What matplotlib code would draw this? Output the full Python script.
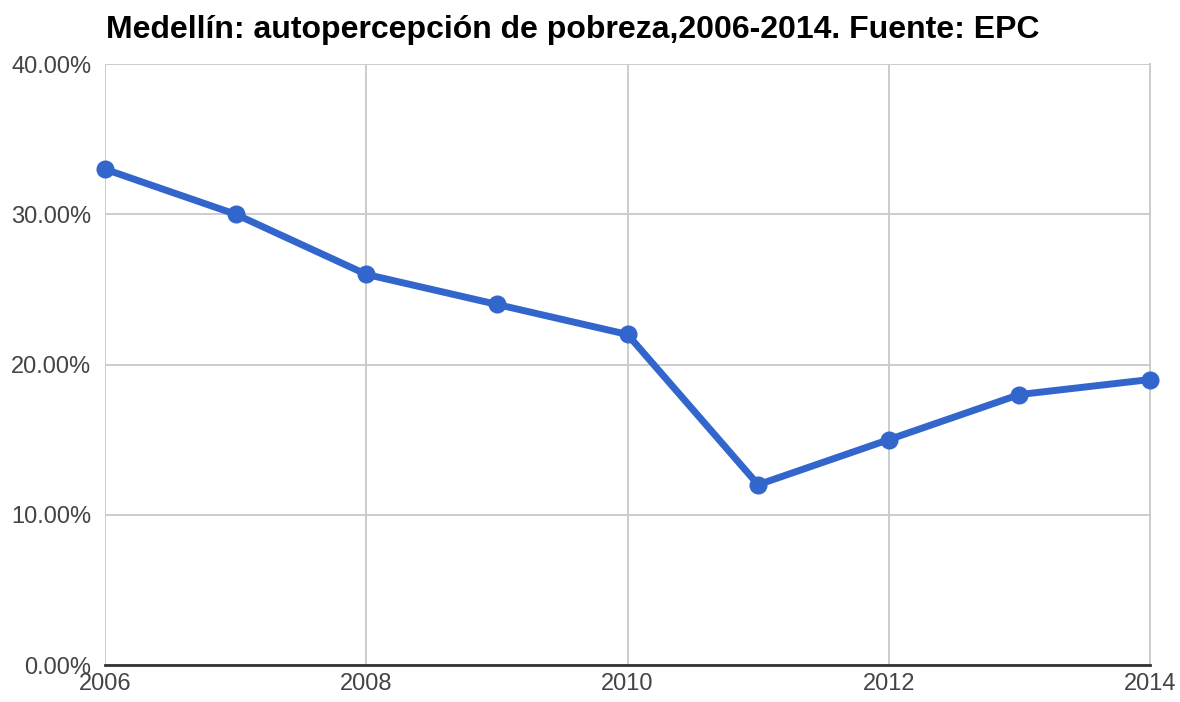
import matplotlib
matplotlib.use("Agg")
from matplotlib import pyplot as plt
from matplotlib.ticker import FuncFormatter

years = [2006, 2007, 2008, 2009, 2010, 2011, 2012, 2013, 2014]
pobreza = [33.0, 30.0, 26.0, 24.0, 22.0, 12.0, 15.0, 18.0, 19.0]
year_ticks = [2006, 2008, 2010, 2012, 2014]
pct_ticks = [0, 10, 20, 30, 40]
title = "Medellín: autopercepción de pobreza,2006-2014. Fuente: EPC"

plt.rcParams['font.family'] = ['Liberation Sans', 'DejaVu Sans']

fig = plt.figure(figsize=(11.8, 7.02), dpi=100)
ax = fig.add_axes([0.089, 0.0527, 0.8856, 0.8561])

ax.plot(years, pobreza, color="#3366cc", linewidth=5,
        marker="o", markersize=12, solid_capstyle="round", zorder=3, clip_on=False)

ax.set_xlim(2006, 2014)
ax.set_ylim(0, 40)
ax.set_xticks(year_ticks)
ax.set_yticks(pct_ticks)
ax.yaxis.set_major_formatter(FuncFormatter(lambda v, p: "%.2f%%" % v))

ax.grid(True, color="#cccccc", linewidth=1.4)
ax.set_axisbelow(True)
for side in ["top", "left"]:
    ax.spines[side].set_visible(False)
ax.spines["right"].set_color("#cccccc")
ax.spines["right"].set_linewidth(1.4)
ax.spines["bottom"].set_color("#333333")
ax.spines["bottom"].set_linewidth(2)
ax.tick_params(length=0, labelsize=17, labelcolor="#444444")
ax.tick_params(axis="y", pad=10)
ax.tick_params(axis="x", pad=6)

fig.text(0.09, 0.978, title, fontsize=23, fontweight="bold", color="black",
         ha="left", va="top")

fig.savefig("out.png", dpi=100)
